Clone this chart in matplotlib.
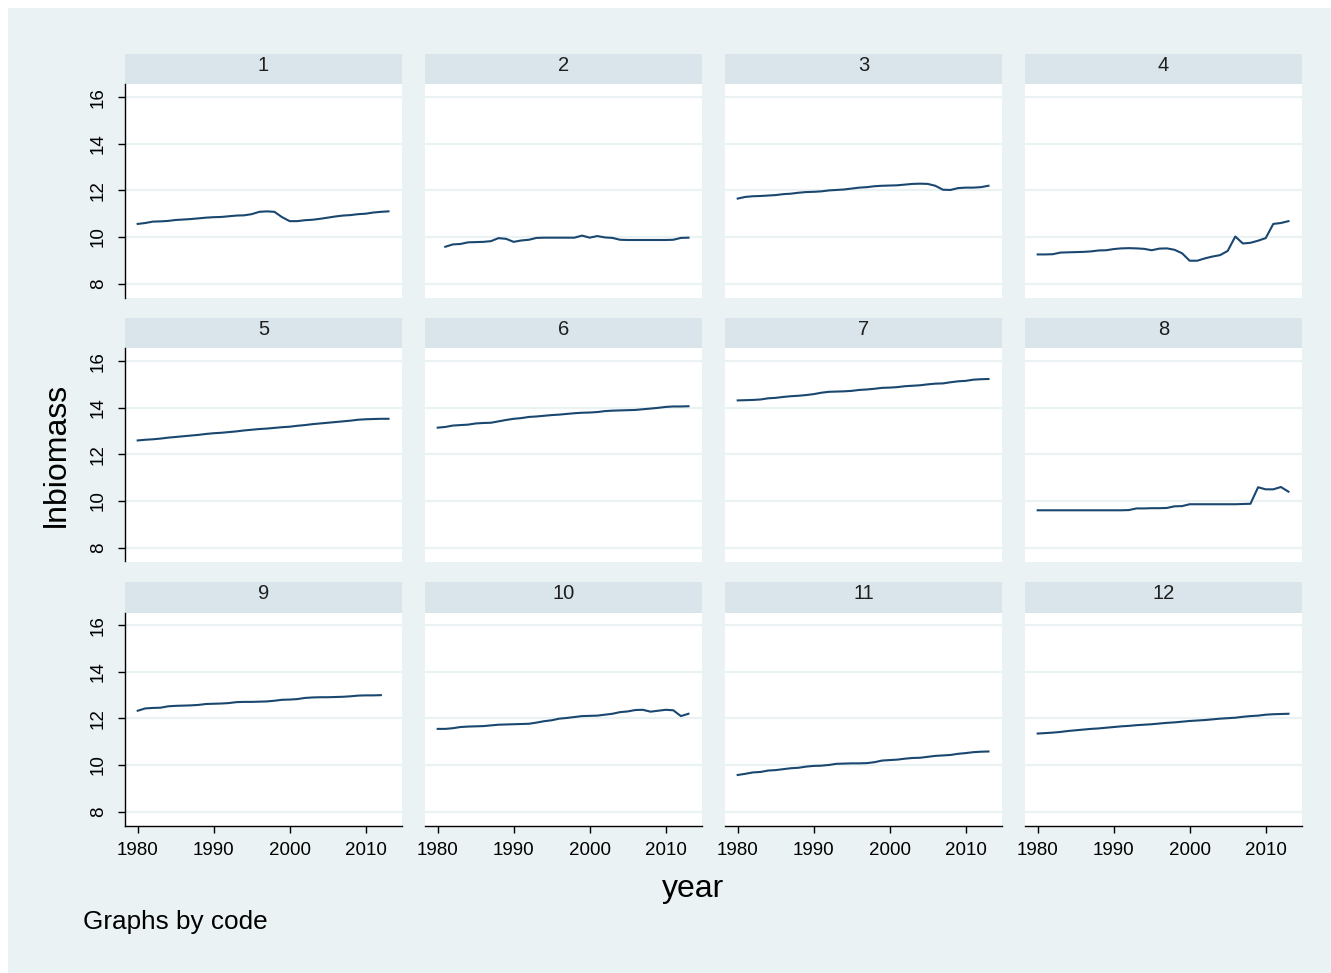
import matplotlib.pyplot as plt
from matplotlib.patches import Rectangle

plt.rcParams['font.family'] = ['Liberation Sans', 'DejaVu Sans']

# lnbiomass by year for each code
years = list(range(1980, 2014))
years_2 = list(range(1981, 2014))
years_9 = list(range(1980, 2013))

lnbiomass_1 = [10.56, 10.60, 10.66, 10.67, 10.69, 10.73, 10.75, 10.77, 10.80, 10.83,
               10.85, 10.86, 10.89, 10.92, 10.93, 10.98, 11.08, 11.10, 11.08, 10.85,
               10.68, 10.68, 10.72, 10.74, 10.78, 10.83, 10.88, 10.92, 10.94, 10.98,
               11.00, 11.05, 11.08, 11.10]
lnbiomass_2 = [9.58, 9.68, 9.70, 9.77, 9.78, 9.79, 9.82, 9.95, 9.92, 9.79,
               9.85, 9.88, 9.96, 9.97, 9.97, 9.97, 9.97, 9.97, 10.06, 9.97,
               10.04, 9.98, 9.96, 9.88, 9.87, 9.87, 9.87, 9.87, 9.87, 9.87,
               9.88, 9.96, 9.97]
lnbiomass_3 = [11.65, 11.72, 11.75, 11.76, 11.78, 11.80, 11.84, 11.86, 11.90, 11.93,
               11.94, 11.96, 12.00, 12.02, 12.04, 12.08, 12.12, 12.14, 12.18, 12.20,
               12.21, 12.22, 12.25, 12.28, 12.29, 12.28, 12.20, 12.03, 12.02, 12.10,
               12.12, 12.12, 12.14, 12.20]
lnbiomass_4 = [9.25, 9.25, 9.26, 9.33, 9.34, 9.35, 9.36, 9.38, 9.42, 9.43,
               9.48, 9.51, 9.52, 9.51, 9.49, 9.43, 9.50, 9.51, 9.45, 9.30,
               8.98, 8.98, 9.08, 9.16, 9.22, 9.40, 10.02, 9.72, 9.75, 9.84,
               9.95, 10.56, 10.60, 10.68]
lnbiomass_5 = [12.60, 12.63, 12.65, 12.68, 12.72, 12.75, 12.78, 12.81, 12.84, 12.88,
               12.91, 12.93, 12.96, 12.99, 13.03, 13.06, 13.09, 13.11, 13.14, 13.17,
               13.19, 13.23, 13.26, 13.30, 13.33, 13.36, 13.39, 13.42, 13.45, 13.49,
               13.51, 13.52, 13.53, 13.53]
lnbiomass_6 = [13.15, 13.18, 13.24, 13.26, 13.28, 13.33, 13.35, 13.36, 13.42, 13.48,
               13.53, 13.56, 13.61, 13.63, 13.66, 13.69, 13.71, 13.74, 13.77, 13.79,
               13.80, 13.82, 13.86, 13.88, 13.89, 13.90, 13.91, 13.94, 13.97, 14.00,
               14.04, 14.06, 14.06, 14.07]
lnbiomass_7 = [14.32, 14.33, 14.34, 14.36, 14.41, 14.43, 14.47, 14.50, 14.52, 14.55,
               14.59, 14.65, 14.69, 14.70, 14.71, 14.73, 14.77, 14.79, 14.82, 14.86,
               14.87, 14.89, 14.93, 14.95, 14.97, 15.01, 15.04, 15.05, 15.10, 15.14,
               15.16, 15.21, 15.23, 15.24]
lnbiomass_8 = [9.60, 9.60, 9.60, 9.60, 9.60, 9.60, 9.60, 9.60, 9.60, 9.60,
               9.60, 9.60, 9.61, 9.68, 9.68, 9.69, 9.69, 9.70, 9.77, 9.78,
               9.86, 9.86, 9.86, 9.86, 9.86, 9.86, 9.86, 9.87, 9.88, 10.59,
               10.50, 10.50, 10.60, 10.40]
lnbiomass_9 = [12.33, 12.43, 12.45, 12.46, 12.52, 12.54, 12.55, 12.56, 12.58, 12.62,
               12.63, 12.64, 12.66, 12.70, 12.71, 12.71, 12.72, 12.73, 12.76, 12.80,
               12.81, 12.83, 12.88, 12.90, 12.91, 12.91, 12.92, 12.93, 12.95, 12.98,
               12.99, 12.99, 13.00]
lnbiomass_10 = [11.55, 11.55, 11.58, 11.63, 11.65, 11.66, 11.67, 11.70, 11.73, 11.74,
                11.75, 11.76, 11.77, 11.82, 11.88, 11.92, 11.99, 12.02, 12.06, 12.10,
                12.11, 12.12, 12.16, 12.20, 12.27, 12.30, 12.36, 12.37, 12.29, 12.33,
                12.37, 12.35, 12.10, 12.20]
lnbiomass_11 = [9.57, 9.62, 9.68, 9.70, 9.76, 9.78, 9.82, 9.86, 9.88, 9.93,
                9.96, 9.97, 10.00, 10.05, 10.06, 10.07, 10.07, 10.08, 10.12, 10.19,
                10.21, 10.23, 10.27, 10.30, 10.31, 10.35, 10.39, 10.41, 10.43, 10.48,
                10.51, 10.55, 10.57, 10.58]
lnbiomass_12 = [11.35, 11.37, 11.39, 11.42, 11.46, 11.49, 11.52, 11.55, 11.57, 11.60,
                11.63, 11.66, 11.68, 11.71, 11.73, 11.75, 11.78, 11.81, 11.83, 11.86,
                11.89, 11.91, 11.93, 11.96, 11.99, 12.01, 12.03, 12.07, 12.10, 12.12,
                12.16, 12.18, 12.19, 12.20]

codes = list(range(1, 13))
series = [
    (years, lnbiomass_1), (years_2, lnbiomass_2), (years, lnbiomass_3), (years, lnbiomass_4),
    (years, lnbiomass_5), (years, lnbiomass_6), (years, lnbiomass_7), (years, lnbiomass_8),
    (years_9, lnbiomass_9), (years, lnbiomass_10), (years, lnbiomass_11), (years, lnbiomass_12),
]
y_ticks = [8, 10, 12, 14, 16]
x_ticks = [1980, 1990, 2000, 2010]

W, H = 1331, 973
BG = '#eaf2f3'
STRIP = '#d9e5eb'
NAVY = '#1a476f'

fig = plt.figure(figsize=(W / 100, H / 100), dpi=100)
fig.patch.set_facecolor('white')
fig.patches.append(Rectangle((8 / W, 0), 1 - 8 / W, 1 - 8 / H, transform=fig.transFigure,
                             facecolor=BG, edgecolor='none', zorder=-10))


def box(x0, y0, w, h):
    # pixel box (top-left origin) -> figure fraction rect
    return [x0 / W, 1 - (y0 + h) / H, w / W, h / H]


col_left = [125, 425, 725, 1025]
strip_top = [53.5, 317.5, 581.5]
panel_w, strip_h, plot_h = 277, 31, 213

for i, code in enumerate(codes):
    r, c = divmod(i, 4)

    # header strip with the code
    sx = fig.add_axes(box(col_left[c], strip_top[r], panel_w, strip_h))
    sx.set_facecolor(STRIP)
    sx.set_xticks([])
    sx.set_yticks([])
    for s in sx.spines.values():
        s.set_visible(False)
    sx.text(0.5, 0.6, str(code), ha='center', va='center', fontsize=14.5, color='#1e1e1e')

    ax = fig.add_axes(box(col_left[c], strip_top[r] + strip_h, panel_w, plot_h))
    ax.set_facecolor('white')
    xs, ys = series[i]
    ax.plot(xs, ys, color=NAVY, lw=1.5, zorder=3)
    ax.set_xlim(1978.33, 2014.78)
    ax.set_ylim(7.4, 16.55)
    ax.set_yticks(y_ticks)
    ax.set_xticks(x_ticks)
    ax.grid(axis='y', color=BG, lw=1.6, zorder=1)
    ax.grid(axis='x', visible=False)
    for s in ax.spines.values():
        s.set_visible(False)

    ax.tick_params(axis='y', length=5, width=1, pad=8, labelsize=13.5, labelrotation=90,
                   left=(c == 0), labelleft=(c == 0))
    ax.tick_params(axis='x', length=5, width=1, pad=7, labelsize=13.5,
                   bottom=(r == 2), labelbottom=(r == 2))
    if c == 0:
        ax.spines['left'].set_visible(True)
        ax.spines['left'].set_linewidth(1)
        for lab in ax.get_yticklabels():
            lab.set_va('center')
    if r == 2:
        ax.spines['bottom'].set_visible(True)
        ax.spines['bottom'].set_linewidth(1)

fig.text(57 / W, 1 - 455 / H, 'lnbiomass', rotation=90, ha='center', va='center', fontsize=23)
fig.text(693 / W, 1 - 889 / H, 'year', ha='center', va='center', fontsize=23)
fig.text(83 / W, 1 - 922 / H, 'Graphs by code', ha='left', va='center', fontsize=18.8)

fig.savefig('out.png', dpi=100, facecolor=fig.get_facecolor())
